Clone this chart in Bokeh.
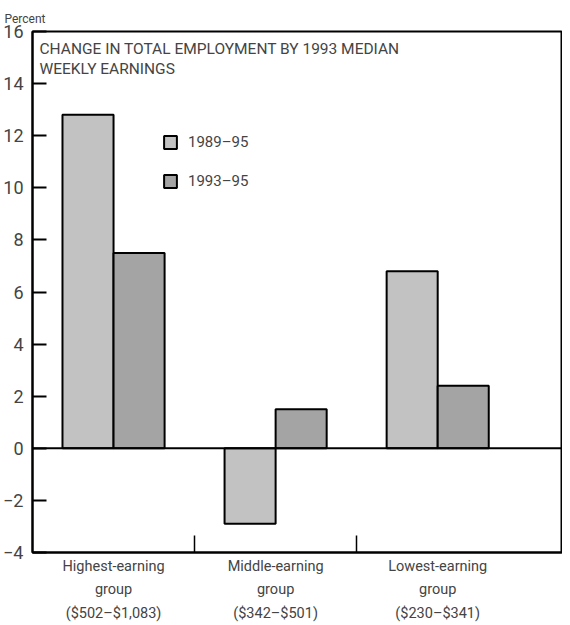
from bokeh.plotting import figure
from bokeh.models import (Range1d, FixedTicker, Span, Label, Legend, LegendItem, ColumnDataSource)
from bokeh.embed import file_html
from bokeh.resources import INLINE

# ---- data ----
categories = ["Highest-earning\ngroup\n($502\u2013$1,083)",
              "Middle-earning\ngroup\n($342\u2013$501)",
              "Lowest-earning\ngroup\n($230\u2013$341)"]
series_names = ["1989\u201395", "1993\u201395"]
values_1989_95 = [12.8, -2.9, 6.8]
values_1993_95 = [7.5, 1.5, 2.4]
y_ticks = [-4, -2, 0, 2, 4, 6, 8, 10, 12, 14, 16]
title_lines = ["CHANGE IN TOTAL EMPLOYMENT BY 1993 MEDIAN", "WEEKLY EARNINGS"]
y_unit_label = "Percent"

FONT = "Roboto"
colors = ["#c2c2c2", "#a4a4a4"]
bar_w = 0.315

p = figure(width=562, height=625, output_backend="svg", toolbar_location=None,
           x_range=Range1d(0, 3.27), y_range=Range1d(-4, 16),
           min_border_left=25, min_border_right=0, min_border_top=31, min_border_bottom=72)
p.grid.visible = False
p.outline_line_color = "black"
p.outline_line_width = 2
p.background_fill_color = "white"

p.title.text = y_unit_label
p.title.align = "left"
p.title.offset = -28
p.title.text_font = FONT
p.title.text_font_style = "normal"
p.title.text_font_size = "12px"
p.title.standoff = 12

centers = [i + 0.5 for i in range(len(categories))]
renderers = []
for k, (vals, col) in enumerate(zip([values_1989_95, values_1993_95], colors)):
    off = (k - 0.5) * bar_w
    src = ColumnDataSource(dict(x=[c + off for c in centers], top=vals))
    r = p.vbar(x="x", top="top", bottom=0, width=bar_w, source=src,
               fill_color=col, line_color="black", line_width=2)
    renderers.append(r)

p.add_layout(Span(location=0, dimension="width", line_color="black", line_width=2))

# y axis
ya = p.yaxis[0]
ya.ticker = FixedTicker(ticks=y_ticks)
ya.axis_line_width = 2
ya.major_tick_in = 14
ya.major_tick_out = 0
ya.major_tick_line_width = 2
ya.minor_tick_line_color = None
ya.major_label_text_font = FONT
ya.major_label_text_font_size = "18px"
ya.major_label_standoff = 9
ya.major_label_overrides = {t: (str(t) if t >= 0 else "\u2212" + str(-t)) for t in y_ticks}

# x axis
xa = p.xaxis[0]
xa.ticker = FixedTicker(ticks=centers, minor_ticks=[1, 2])
xa.axis_line_width = 2
xa.major_tick_in = 0
xa.major_tick_out = 0
xa.minor_tick_in = 17
xa.minor_tick_out = 0
xa.minor_tick_line_width = 1.5
xa.major_label_overrides = {c: lab for c, lab in zip(centers, categories)}
xa.major_label_text_font = FONT
xa.major_label_text_font_size = "14.5px"
xa.major_label_text_line_height = 1.4
xa.major_label_standoff = 5

# title inside plot
for i, line in enumerate(title_lines):
    p.add_layout(Label(x=7, y=513 - i * 20, x_units="screen", y_units="screen", text=line,
                       text_font=FONT, text_font_size="15.5px",
                       text_baseline="top"))

legend = Legend(items=[LegendItem(label=n, renderers=[r]) for n, r in zip(series_names, renderers)],
                location=(130, 362), orientation="vertical", glyph_width=16, glyph_height=16,
                label_height=16, spacing=21, padding=0, margin=0,
                label_text_font=FONT, label_text_font_size="15px",
                border_line_color=None, background_fill_alpha=0, label_standoff=10)
p.add_layout(legend)

open("out.html", "w").write(file_html(p, INLINE))
